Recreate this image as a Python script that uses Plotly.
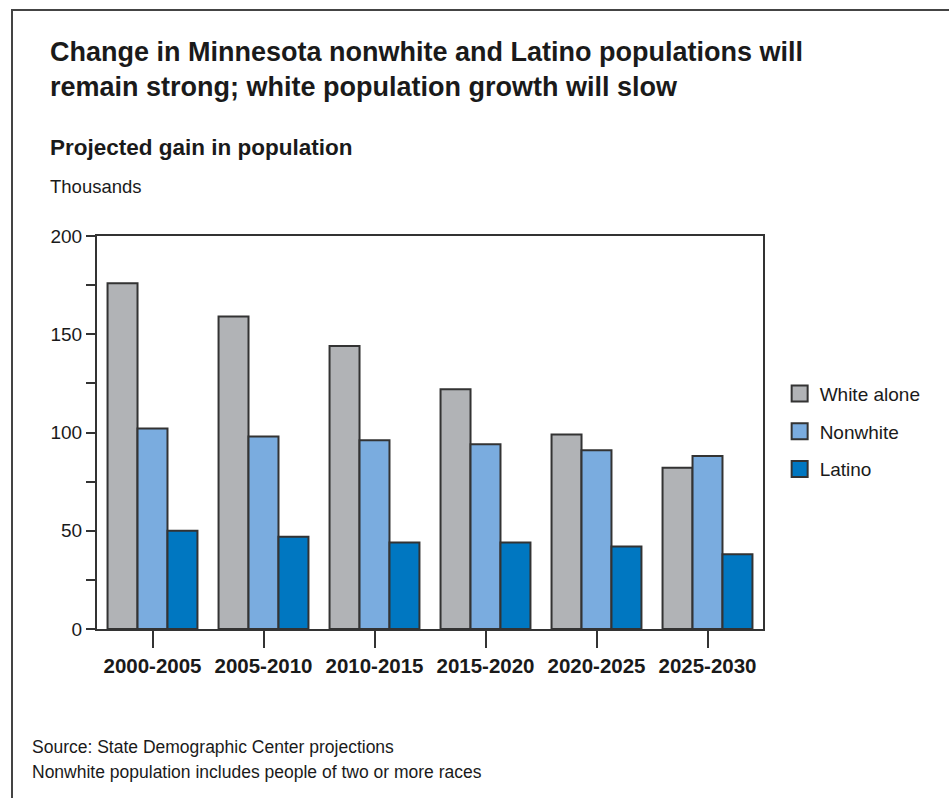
import plotly.graph_objects as go

periods = ["2000-2005", "2005-2010", "2010-2015", "2015-2020", "2020-2025", "2025-2030"]
white_alone = [176, 159, 144, 122, 99, 82]
nonwhite = [102, 98, 96, 94, 91, 88]
latino = [50, 47, 44, 44, 42, 38]

series = [
    ("White alone", white_alone, "#B1B3B6"),
    ("Nonwhite", nonwhite, "#7AACDF"),
    ("Latino", latino, "#0077C1"),
]

y_tickvals = [0, 25, 50, 75, 100, 125, 150, 175, 200]
y_ticktext = ["0", "", "50", "", "100", "", "150", "", "200"]

FONT = "Liberation Sans, Arial, sans-serif"
EDGE = "#333333"
TXT = "#1a1a1a"

fig = go.Figure()
for name, vals, col in series:
    fig.add_trace(go.Bar(
        x=periods, y=vals, name=name, showlegend=False,
        marker=dict(color=col, line=dict(color=EDGE, width=2)),
    ))
for name, vals, col in series:
    fig.add_trace(go.Scatter(
        x=[None], y=[None], mode="markers", name=name, legendgroup=name,
        marker=dict(symbol="square", size=22, color=col, line=dict(color=EDGE, width=2)),
    ))

fig.update_layout(
    width=949, height=798,
    margin=dict(l=97, r=186, t=236, b=169),
    paper_bgcolor="white", plot_bgcolor="white",
    barmode="group", bargap=0.19, bargroupgap=0,
    font=dict(family=FONT, color=TXT, size=17),
    legend=dict(x=1.025, y=0.647, xanchor="left", yanchor="top",
                font=dict(size=19, family=FONT, color=TXT),
                itemwidth=30, tracegroupgap=10, bgcolor="rgba(0,0,0,0)"),
    xaxis=dict(showline=True, linecolor=EDGE, linewidth=2, mirror=True,
               ticks="outside", ticklen=17, tickwidth=2, tickcolor=EDGE,
               tickfont=dict(size=20.5, family=FONT, color=TXT, weight=600),
               showgrid=False),
    yaxis=dict(range=[0, 200], showline=True, linecolor=EDGE, linewidth=2, mirror=True,
               tickvals=y_tickvals, ticktext=y_ticktext,
               ticks="outside", ticklen=9, tickwidth=2, tickcolor=EDGE,
               tickfont=dict(size=19, family=FONT, color=TXT),
               showgrid=False, zeroline=False),
)

fig.add_shape(type="rect", xref="paper", yref="paper",
              x0=(12 - 97) / 666, x1=1.5, y0=-1, y1=(629 - 10) / 393,
              line=dict(color="#444444", width=2), layer="below")

def ann(text, px, py, size, bold=False):
    fig.add_annotation(
        text=("<b>%s</b>" % text) if bold else text,
        xref="paper", yref="paper",
        x=(px - 97) / 666, y=(629 - py) / 393,
        xanchor="left", yanchor="middle", showarrow=False, align="left",
        font=dict(size=size, family=FONT, color=TXT),
    )

ann("Change in Minnesota nonwhite and Latino populations will", 48, 52, 27, bold=True)
ann("remain strong; white population growth will slow", 48, 87, 27, bold=True)
ann("Projected gain in population", 48, 147, 22.5, bold=True)
ann("Thousands", 48, 186, 18.5)
ann("Source: State Demographic Center projections", 30, 747, 17.5)
ann("Nonwhite population includes people of two or more races", 30, 772, 17.5)

fig.write_html("out.html")
